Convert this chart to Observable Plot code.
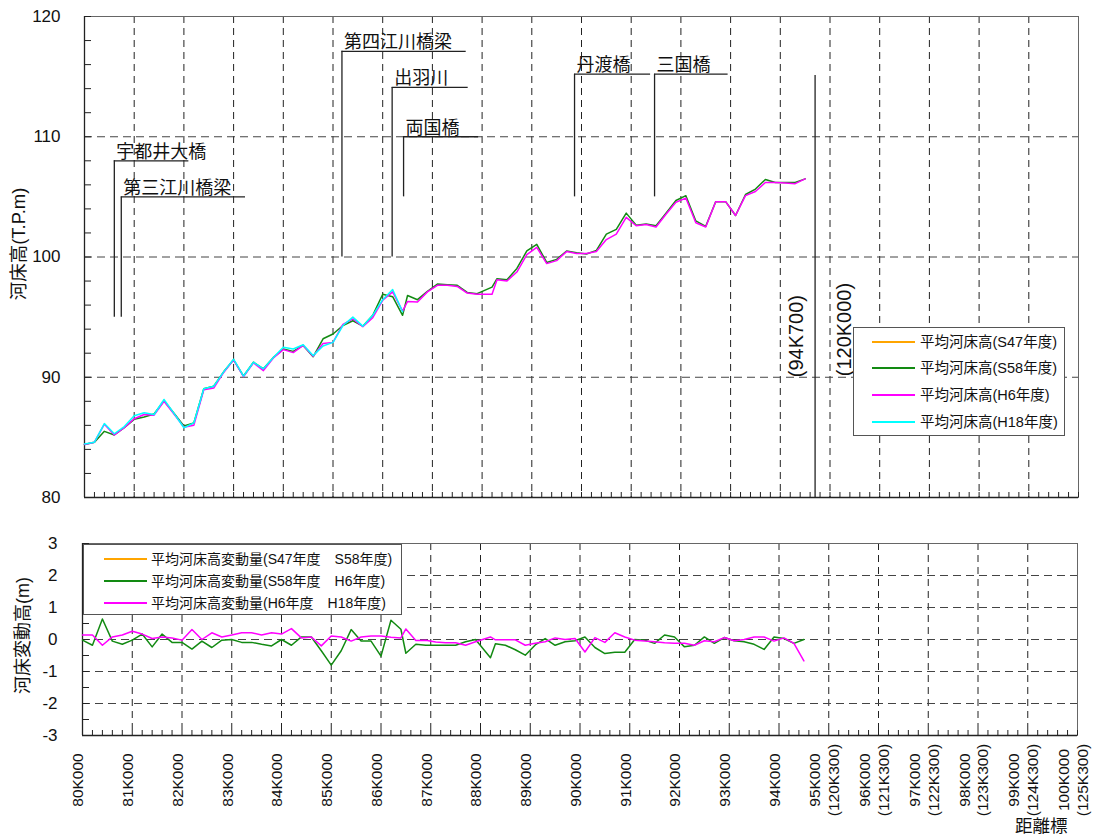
<!DOCTYPE html>
<html>
<head>
<meta charset="utf-8">
<script src="https://cdn.jsdelivr.net/npm/d3@7"></script>
<script src="https://cdn.jsdelivr.net/npm/@observablehq/plot@0.6"></script>
<style>
  body { margin: 0; background: #fff; }
  #wrap { position: relative; width: 1104px; height: 839px; overflow: hidden;
          font-family: "Liberation Sans", "Noto Sans CJK JP", sans-serif; color: #111; }
  #top, #bot { position: absolute; left: 0; }
  #top { top: 0; }
  #bot { top: 510px; }
  .legend { position: absolute; background: #fff; border: 1px solid #555; box-sizing: border-box; }
  .entry { position: absolute; left: 0; height: 0; }
  .entry svg { position: absolute; overflow: visible; }
  .entry span { position: absolute; white-space: pre; transform: translateY(-50%); line-height: 1; }
  #xtitle { position: absolute; left: 1015px; top: 816px; font-size: 17.5px; font-family: "Noto Sans CJK JP", sans-serif; line-height: 1; }
</style>
</head>
<body>
<div id="wrap">
  <div id="top"></div>
  <div id="bot"></div>
  <div class="legend" id="leg1" style="left:853px;top:327px;width:212px;height:109px;"></div>
  <div class="legend" id="leg2" style="left:83px;top:544px;width:319px;height:71px;"></div>
  <div id="xtitle">距離標</div>
</div>
<script>
// ---------------- data ----------------
const distances = [
  80.0,80.2,80.4,80.6,80.8,81.0,81.2,81.4,81.6,81.8,
  82.0,82.2,82.4,82.6,82.8,83.0,83.2,83.4,83.6,83.8,
  84.0,84.2,84.4,84.6,84.8,85.0,85.2,85.4,85.6,85.8,
  86.0,86.2,86.4,
  86.5,86.7,86.9,87.1,87.3,87.5,87.7,87.9,
  88.2,
  88.3,88.5,88.7,88.9,89.1,89.3,89.5,89.7,89.9,90.1,90.3,90.5,90.7,90.9,91.1,91.3,
  91.5,91.7,91.9,92.1,92.3,92.5,92.7,92.9,93.1,93.3,93.5,93.7,93.9,94.1,94.3,94.5
];
// 平均河床高 (T.P.m)
const bedS47 = []; // not visible in the reference
const bedS58 = [
  84.4,84.6,85.5,85.2,85.8,86.5,86.7,86.95,88.05,87.0,
  85.95,86.2,89.05,89.25,90.45,91.45,90.1,91.25,90.7,91.65,
  92.35,92.15,92.65,91.7,93.2,93.6,94.3,94.7,94.25,95.15,
  96.9,96.7,95.15,
  96.8,96.45,97.15,97.75,97.7,97.65,97.05,96.95,
  97.5,
  98.2,98.1,99.05,100.5,101.05,99.55,99.8,100.5,100.35,100.25,100.55,101.9,102.3,103.65,102.65,102.75,
  102.6,103.65,104.7,105.1,103.0,102.55,104.6,104.6,103.45,105.2,105.65,106.45,106.2,106.2,106.2,106.5
];
const bedH6 = [
  84.4,84.6,86.1,85.2,85.8,86.55,86.9,86.85,88.0,86.95,
  85.85,86.0,88.95,89.1,90.4,91.45,90.05,91.2,90.55,91.6,
  92.3,92.05,92.65,91.75,92.8,92.9,94.4,94.85,94.2,94.95,
  96.4,97.1,95.5,
  96.3,96.25,97.1,97.65,97.65,97.55,97.0,96.9,
  96.9,
  98.1,98.0,98.75,100.2,100.8,99.45,99.7,100.45,100.3,100.3,100.45,101.45,101.9,103.3,102.6,102.7,
  102.5,103.55,104.55,104.9,102.85,102.5,104.6,104.6,103.45,105.1,105.45,106.2,106.2,106.15,106.1,106.5
];
const bedH18 = [
  84.45,84.6,86.15,85.3,85.9,86.8,87.05,86.9,88.15,87.0,
  85.8,86.2,89.05,89.25,90.45,91.5,90.1,91.25,90.7,91.65,
  92.5,92.35,92.7,91.8,92.6,92.9,94.3,95.0,94.25,95.15,
  96.45,97.3,95.45
];
// 平均河床高変動量 (m)
const chgS47S58 = []; // not visible in the reference
const chgS58H6 = [
  -0.02,-0.18,0.64,-0.05,-0.15,-0.02,0.17,-0.23,0.17,-0.09,
  -0.09,-0.3,-0.05,-0.25,-0.02,0.0,-0.09,-0.09,-0.15,-0.2,
  0.0,-0.18,0.08,0.08,-0.35,-0.8,-0.35,0.31,-0.05,-0.05,
  -0.52,0.6,0.32,
  -0.43,-0.15,-0.18,-0.18,-0.18,-0.18,-0.07,0.0,
  -0.57,
  -0.13,-0.18,-0.32,-0.49,-0.17,0.03,-0.18,-0.07,-0.04,0.08,-0.25,-0.44,-0.4,-0.4,0.0,-0.02,
  -0.12,0.14,0.08,-0.23,-0.18,0.08,-0.12,0.06,-0.04,-0.07,-0.15,-0.31,0.08,0.03,-0.12,0.0
];
const chgH6H18 = [
  0.14,0.14,-0.18,0.08,0.14,0.26,0.17,0.03,0.08,0.05,
  -0.02,0.31,0.0,0.21,0.08,0.14,0.21,0.21,0.14,0.21,
  0.17,0.34,0.05,0.08,-0.2,0.11,0.08,-0.05,0.08,0.11,
  0.11,0.07,0.05,
  0.33,-0.03,-0.02,-0.08,-0.1,-0.1,-0.18,-0.07,
  0.08,
  -0.01,-0.01,-0.01,-0.18,-0.12,-0.07,0.05,0.0,0.03,-0.39,0.06,-0.09,0.21,0.08,-0.02,-0.05,
  -0.07,-0.1,-0.12,-0.12,-0.18,-0.04,-0.07,0.06,-0.04,0.0,0.08,0.08,-0.05,0.05,-0.12,-0.67
];

// axis ticks / labels
const kmTicks = [80,81,82,83,84,85,86,87,88,89,90,91,92,93,94,95,96,97,98,99,100];
const kmLabels = ["80K000","81K000","82K000","83K000","84K000","85K000","86K000","87K000",
  "88K000","89K000","90K000","91K000","92K000","93K000","94K000",
  "95K000\n(120K300)","96K000\n(121K300)","97K000\n(122K300)","98K000\n(123K300)",
  "99K000\n(124K300)","100K000\n(125K300)"];
const yTicksTop = [80,90,100,110,120];
const yTicksBot = [-3,-2,-1,0,1,2,3];
const yTitleTop = "河床高(T.P.m)";
const yTitleBot = "河床変動高(m)";

// bridges
const bridgeNames  = ["宇都井大橋","第三江川橋梁","第四江川橋梁","出羽川","両国橋","丹渡橋","三国橋"];
const bridgeKm     = [80.6, 80.74, 85.18, 86.19, 86.42, 89.86, 91.47];
const bridgeTop    = [108.0, 105.0, 117.1, 114.1, 110.0, 115.2, 115.2];
const bridgeBase   = [95, 95, 100, 100, 105, 105, 105];
const bridgeEnd    = [82.1, 83.24, 87.68, 87.72, 87.93, 91.39, 92.95];

// section boundary
const boundaryKm = 94.7;
const boundaryTop = 115.1;
const boundaryLabels = ["(94K700)", "(120K000)"];

// series names / colours
const topNames = ["平均河床高(S47年度)","平均河床高(S58年度)","平均河床高(H6年度)","平均河床高(H18年度)"];
const botNames = ["平均河床高変動量(S47年度　S58年度)","平均河床高変動量(S58年度　H6年度)","平均河床高変動量(H6年度　H18年度)"];
const colS47 = "#FFA500", colS58 = "#128a12", colH6 = "#FF00FF", colH18 = "#00FFFF";

// ---------------- build ----------------
const latin = "Liberation Sans, Noto Sans CJK JP, sans-serif";
const cjk = "Noto Sans CJK JP, sans-serif";
const mk = (arr) => arr.map((v, i) => ({km: distances[i], v}));
const minor = d3.range(0, 101).map(i => 80 + i * 0.2);
const innerGrid = kmTicks.slice(1, -1);

const W = 1104;
// top chart
const tH = 510, tMT = 16, tMB = 13, tML = 84, tMR = 26;
const tIW = W - tML - tMR, tIH = tH - tMT - tMB;
const bridges = bridgeNames.map((name, i) => ({name, km: bridgeKm[i], top: bridgeTop[i], base: bridgeBase[i], end: bridgeEnd[i]}));

const topPlot = Plot.plot({
  width: W, height: tH, marginTop: tMT, marginBottom: tMB, marginLeft: tML, marginRight: tMR,
  x: {domain: [80, 100], axis: null},
  y: {domain: [80, 120], axis: null},
  style: {background: "transparent", fontFamily: latin, color: "#111", overflow: "visible"},
  marks: [
    Plot.gridX(innerGrid, {stroke: "#222", strokeOpacity: 1, strokeDasharray: "7,5"}),
    Plot.gridY([90, 100, 110], {stroke: "#444", strokeOpacity: 1, strokeDasharray: "8,5"}),
    Plot.frame({stroke: "#666"}),
    Plot.ruleX([80], {stroke: "#222", strokeWidth: 1.3}),
    Plot.ruleY([80], {stroke: "#222", strokeWidth: 1.3}),
    Plot.tickY(d3.range(80, 121, 2), {y: d => d, insetRight: tIW - 7, stroke: "#222"}),
    Plot.tickX(minor, {x: d => d, insetTop: tIH - 5, stroke: "#222"}),
    Plot.text(yTicksTop, {y: d => d, text: d => String(d), frameAnchor: "left", dx: -24, textAnchor: "end", fontSize: 17, fill: "#111"}),
    Plot.text([yTitleTop], {text: d => d, frameAnchor: "left", textAnchor: "middle", lineAnchor: "middle", dx: -65, dy: -13, rotate: -90, fontSize: 18.5, fontFamily: latin, fill: "#111"}),
    // bridges
    Plot.ruleX(bridges, {x: "km", y1: "base", y2: "top", stroke: "#222", strokeWidth: 1.3}),
    Plot.ruleY(bridges, {y: "top", x1: "km", x2: "end", stroke: "#222", strokeWidth: 1.3}),
    Plot.text(bridges, {x: "km", y: "top", text: "name", textAnchor: "start", lineAnchor: "bottom", dx: 2, dy: -3, fontSize: 18, fontFamily: cjk, fill: "#111"}),
    // boundary
    Plot.ruleX([boundaryKm], {x: d => d, y1: 80, y2: boundaryTop, stroke: "#222", strokeWidth: 1.3}),
    Plot.text([boundaryLabels[0]], {x: boundaryKm, y: 90, text: d => d, rotate: -90, textAnchor: "start", lineAnchor: "middle", dx: -18, fontSize: 20, fill: "#111"}),
    Plot.text([boundaryLabels[1]], {x: boundaryKm, y: 90, text: d => d, rotate: -90, textAnchor: "start", lineAnchor: "middle", dx: 30, dy: -1, fontSize: 20, fill: "#111"}),
    // series
    Plot.line(mk(bedS47), {x: "km", y: "v", stroke: colS47, strokeWidth: 1.5}),
    Plot.line(mk(bedS58), {x: "km", y: "v", stroke: colS58, strokeWidth: 1.5}),
    Plot.line(mk(bedH6), {x: "km", y: "v", stroke: colH6, strokeWidth: 1.5}),
    Plot.line(mk(bedH18), {x: "km", y: "v", stroke: colH18, strokeWidth: 1.5})
  ]
});
document.getElementById("top").appendChild(topPlot);

// bottom chart
const bH = 329, bMT = 33, bMB = 104, bML = 82, bMR = 27;
const bIW = W - bML - bMR, bIH = bH - bMT - bMB;
const kmRows = kmTicks.map((k, i) => ({km: k, label: kmLabels[i]}));

const botPlot = Plot.plot({
  width: W, height: bH, marginTop: bMT, marginBottom: bMB, marginLeft: bML, marginRight: bMR,
  x: {domain: [80, 100], axis: null},
  y: {domain: [-3, 3], axis: null},
  style: {background: "transparent", fontFamily: latin, color: "#111", overflow: "visible"},
  marks: [
    Plot.gridX(innerGrid, {stroke: "#222", strokeOpacity: 1, strokeDasharray: "7,5"}),
    Plot.gridY([-2, -1, 0, 1, 2], {stroke: "#444", strokeOpacity: 1, strokeDasharray: "8,5"}),
    Plot.frame({stroke: "#666"}),
    Plot.ruleX([80], {stroke: "#222", strokeWidth: 1.3}),
    Plot.ruleY([-3], {stroke: "#222", strokeWidth: 1.3}),
    Plot.tickY(d3.range(-3, 3.01, 0.5), {y: d => d, insetRight: bIW - 7, stroke: "#222"}),
    Plot.tickX(minor, {x: d => d, insetTop: bIH - 5, stroke: "#222"}),
    Plot.text(yTicksBot, {y: d => d, text: d => String(d), frameAnchor: "left", dx: -25, textAnchor: "end", fontSize: 17, fill: "#111"}),
    Plot.text([yTitleBot], {text: d => d, frameAnchor: "left", textAnchor: "middle", lineAnchor: "middle", dx: -59, dy: -4, rotate: -90, fontSize: 18, fontFamily: latin, fill: "#111"}),
    Plot.text(kmRows, {x: "km", text: "label", frameAnchor: "bottom", dy: 44.5, dx: -5, rotate: -90, textAnchor: "middle", lineAnchor: "middle", lineHeight: 1.2, fontSize: 15.5, fill: "#111"}),
    Plot.line(mk(chgS47S58), {x: "km", y: "v", stroke: colS47, strokeWidth: 1.5}),
    Plot.line(mk(chgS58H6), {x: "km", y: "v", stroke: colS58, strokeWidth: 1.5}),
    Plot.line(mk(chgH6H18), {x: "km", y: "v", stroke: colH6, strokeWidth: 1.5})
  ]
});
document.getElementById("bot").appendChild(botPlot);

// legends
function buildLegend(el, names, colors, ys, x1, x2, tx, fs) {
  names.forEach((n, i) => {
    const e = document.createElement("div");
    e.className = "entry";
    e.style.top = ys[i] + "px";
    e.innerHTML = `<svg width="1" height="1" style="left:0;top:0"><line x1="${x1}" x2="${x2}" y1="0" y2="0" stroke="${colors[i]}" stroke-width="2"/></svg>` +
      `<span style="left:${tx}px;font-size:${fs}px">${n}</span>`;
    el.appendChild(e);
  });
}
buildLegend(document.getElementById("leg1"), topNames, [colS47, colS58, colH6, colH18], [13.5, 40, 67, 93.5], 18, 61, 66, 14.5);
buildLegend(document.getElementById("leg2"), botNames, [colS47, colS58, colH6], [14, 36, 57.5], 20, 63, 67, 14);
</script>
</body>
</html>
